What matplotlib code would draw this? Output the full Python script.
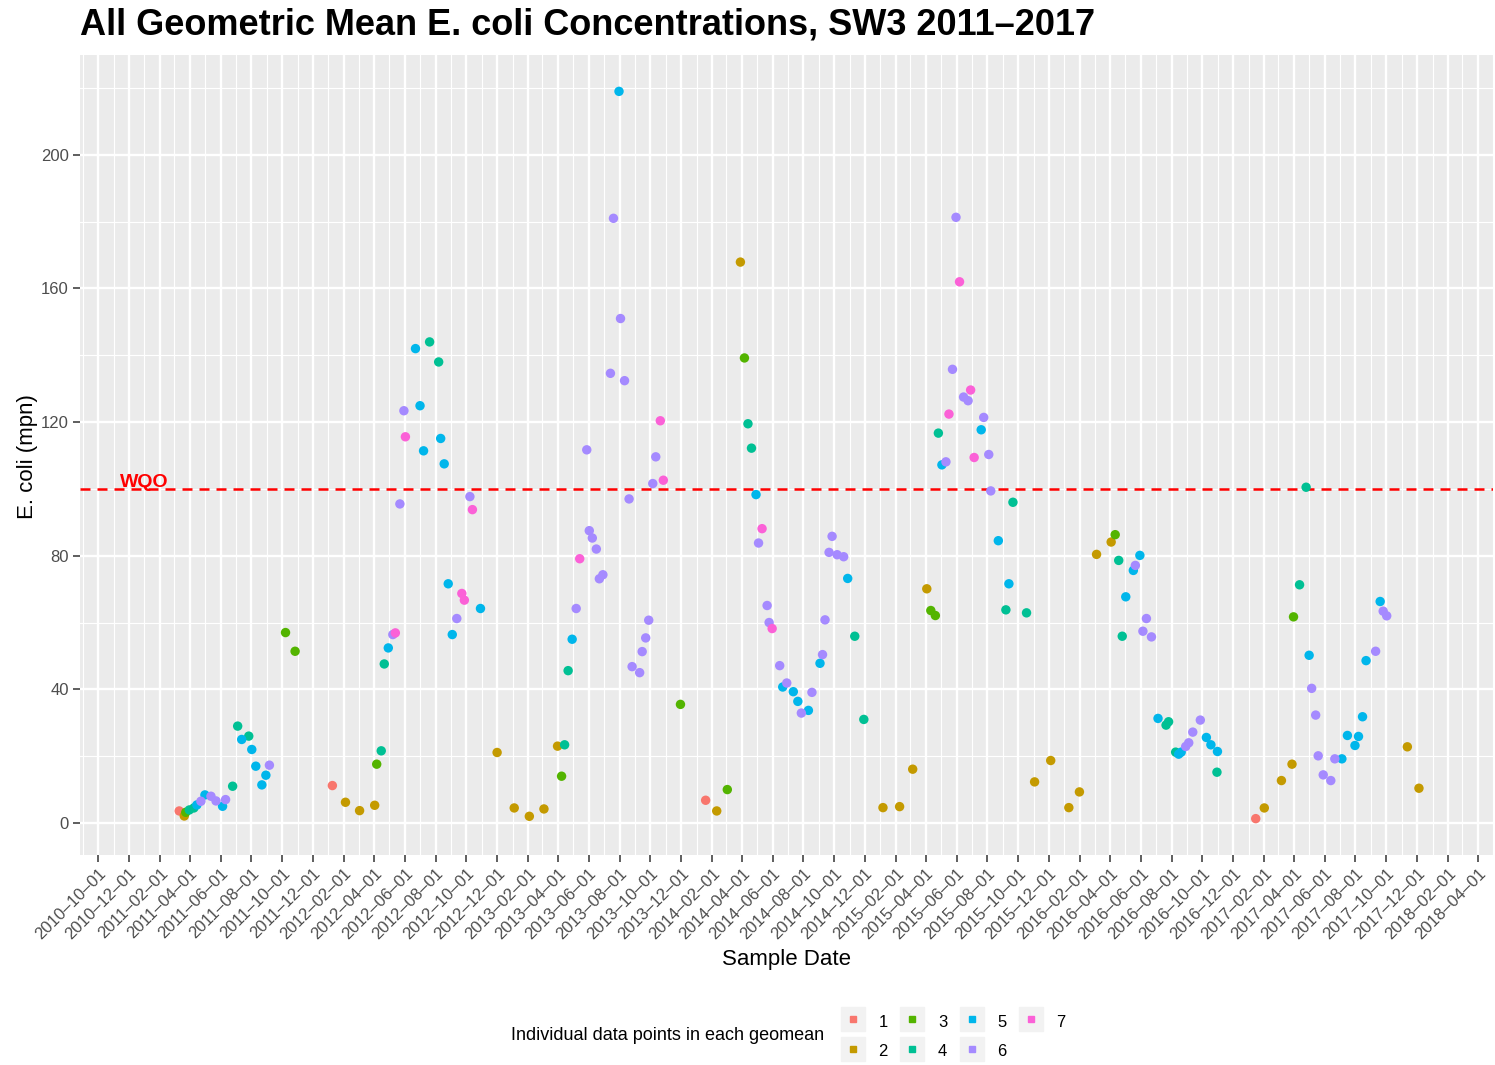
import pandas as pd
import numpy as np
import matplotlib
matplotlib.use('Agg')
import matplotlib.pyplot as plt
from matplotlib.lines import Line2D
from matplotlib.legend_handler import HandlerTuple

plt.rcParams['font.family'] = ['Liberation Sans', 'DejaVu Sans']

# ---- Data: sample date and geomean value for each point count group ----
g1_dates = ['2011-03-11', '2012-01-09', '2014-01-19', '2017-01-15']
g1_vals = [3.6, 11.2, 6.8, 1.3]

g2_dates = ['2011-03-21', '2012-02-04', '2012-03-03', '2012-04-02', '2012-12-01',
            '2013-01-04', '2013-02-03', '2013-03-04', '2013-03-31', '2014-02-10',
            '2014-03-29', '2015-01-06', '2015-02-08', '2015-03-06', '2015-04-03',
            '2015-11-03', '2015-12-05', '2016-01-10', '2016-01-31', '2016-03-05',
            '2016-04-03', '2017-02-01', '2017-03-07', '2017-03-28', '2017-11-12',
            '2017-12-05']
g2_vals = [2.1, 6.2, 3.7, 5.3, 21.1, 4.5, 2.0, 4.2, 23.0, 3.6,
           167.9, 4.6, 4.9, 16.1, 70.1, 12.3, 18.7, 4.6, 9.3, 80.4,
           84.1, 4.5, 12.7, 17.6, 22.8, 10.4]

g3_dates = ['2011-03-24', '2011-10-08', '2011-10-27', '2012-04-06', '2013-04-08',
            '2013-11-30', '2014-03-03', '2014-04-06', '2015-04-11', '2015-04-20',
            '2016-04-11', '2017-03-31']
g3_vals = [3.2, 57.0, 51.4, 17.6, 14.0, 35.5, 10.0, 139.2, 63.6, 62.1, 86.3, 61.7]

g4_dates = ['2011-03-31', '2011-04-09', '2011-06-25', '2011-07-05', '2011-07-27',
            '2012-04-15', '2012-04-21', '2012-07-20', '2012-08-07', '2013-04-14',
            '2013-04-21', '2014-04-13', '2014-04-20', '2014-11-11', '2014-11-29',
            '2015-04-26', '2015-09-07', '2015-09-21', '2015-10-18', '2016-04-18',
            '2016-04-25', '2016-07-21', '2016-07-26', '2016-08-09', '2016-10-30',
            '2017-04-12', '2017-04-25']
g4_vals = [3.9, 4.5, 11.0, 29.0, 26.0, 21.6, 47.6, 144.0, 138.0, 23.4,
           45.6, 119.5, 112.2, 55.9, 31.0, 116.7, 63.8, 96.0, 62.9, 78.6,
           55.9, 29.3, 30.3, 21.2, 15.2, 71.3, 100.5]

g5_dates = ['2011-04-15', '2011-05-01', '2011-06-05', '2011-07-13', '2011-08-02',
            '2011-08-10', '2011-08-22', '2011-08-30', '2012-04-29', '2012-06-22',
            '2012-07-01', '2012-07-08', '2012-08-11', '2012-08-18', '2012-08-26',
            '2012-09-03', '2012-10-29', '2013-04-29', '2013-07-31', '2014-04-29',
            '2014-06-21', '2014-07-12', '2014-07-21', '2014-08-11', '2014-09-03',
            '2014-10-28', '2015-05-03', '2015-07-20', '2015-08-23', '2015-09-13',
            '2016-05-02', '2016-05-17', '2016-05-30', '2016-07-05', '2016-08-15',
            '2016-08-20', '2016-10-09', '2016-10-18', '2016-10-31', '2017-05-01',
            '2017-07-05', '2017-07-16', '2017-07-31', '2017-08-07', '2017-08-15',
            '2017-08-22', '2017-09-19']
g5_vals = [5.4, 8.4, 5.0, 25.0, 22.0, 17.0, 11.4, 14.3, 52.4, 142.0,
           124.9, 111.4, 115.1, 107.5, 71.6, 56.4, 64.2, 55.0, 219.0, 98.3,
           40.7, 39.3, 36.4, 33.7, 47.8, 73.2, 107.2, 117.7, 84.5, 71.6,
           67.7, 75.6, 80.1, 31.3, 20.6, 21.2, 25.6, 23.4, 21.4, 50.2,
           19.2, 26.2, 23.2, 25.9, 31.8, 48.6, 66.3]

g6_dates = ['2011-04-23', '2011-05-13', '2011-05-23', '2011-06-11', '2011-09-06',
            '2012-05-08', '2012-05-22', '2012-05-30', '2012-09-12', '2012-10-08',
            '2013-05-07', '2013-05-28', '2013-06-02', '2013-06-08', '2013-06-16',
            '2013-06-22', '2013-06-29', '2013-07-14', '2013-07-20', '2013-08-03',
            '2013-08-11', '2013-08-20', '2013-08-26', '2013-09-10', '2013-09-15',
            '2013-09-22', '2013-09-28', '2013-10-06', '2013-10-12', '2014-05-04',
            '2014-05-21', '2014-05-25', '2014-06-15', '2014-06-29', '2014-07-28',
            '2014-08-18', '2014-09-08', '2014-09-13', '2014-09-21', '2014-09-27',
            '2014-10-07', '2014-10-20', '2015-05-11', '2015-05-24', '2015-05-31',
            '2015-06-15', '2015-06-24', '2015-07-25', '2015-08-04', '2015-08-08',
            '2016-05-21', '2016-06-05', '2016-06-12', '2016-06-22', '2016-08-29',
            '2016-09-04', '2016-09-12', '2016-09-27', '2017-05-06', '2017-05-14',
            '2017-05-19', '2017-05-29', '2017-06-13', '2017-06-21', '2017-09-10',
            '2017-09-25', '2017-10-02']
g6_vals = [6.5, 8.0, 6.6, 7.0, 17.3, 56.4, 95.5, 123.4, 61.2, 97.7,
           64.2, 111.7, 87.5, 85.3, 82.0, 73.1, 74.3, 134.6, 181.0, 151.0,
           132.4, 97.0, 46.8, 45.0, 51.3, 55.4, 60.7, 101.6, 109.6, 83.8,
           65.1, 60.0, 47.1, 41.9, 32.9, 39.1, 50.4, 60.8, 81.0, 85.8,
           80.3, 79.7, 108.1, 135.8, 181.3, 127.5, 126.4, 121.4, 110.3, 99.4,
           77.1, 57.4, 61.2, 55.7, 22.9, 24.0, 27.2, 30.8, 40.3, 32.3,
           20.1, 14.4, 12.7, 19.2, 51.4, 63.4, 62.0]

g7_dates = ['2012-05-13', '2012-06-02', '2012-09-22', '2012-09-27', '2012-10-13',
            '2013-05-14', '2013-10-21', '2013-10-27', '2014-05-11', '2014-05-31',
            '2015-05-17', '2015-06-07', '2015-06-29', '2015-07-06']
g7_vals = [56.9, 115.6, 68.7, 66.7, 93.8, 79.1, 120.4, 102.6, 88.1, 58.2,
           122.4, 162.0, 129.6, 109.4]

group_labels = ['1', '2', '3', '4', '5', '6', '7']
group_colors = ['#F8766D', '#C49A00', '#53B400', '#00C094', '#00B6EB', '#A58AFF', '#FB61D7']
wqo = 100

# Build one table
parts = []
for lab, d, v in zip(group_labels,
                     [g1_dates, g2_dates, g3_dates, g4_dates, g5_dates, g6_dates, g7_dates],
                     [g1_vals, g2_vals, g3_vals, g4_vals, g5_vals, g6_vals, g7_vals]):
    parts.append(pd.DataFrame({'date': pd.to_datetime(d), 'ecoli': v, 'n': lab}))
df = pd.concat(parts, ignore_index=True)

# ---- Figure ----
W, H = 1495, 1065
fig = plt.figure(figsize=(W / 100, H / 100), dpi=100)
ax = fig.add_axes([80 / W, 1 - 855 / H, (1493 - 80) / W, (855 - 55) / H])
ax.set_facecolor('#EBEBEB')
for s in ax.spines.values():
    s.set_visible(False)

for lab, col in zip(group_labels, group_colors):
    sub = df[df['n'] == lab]
    ax.scatter(sub['date'], sub['ecoli'], s=46, color=col, edgecolors='none', zorder=3)

ax.axhline(wqo, color='red', lw=1.8, dashes=(4, 2.8), zorder=2)
ax.text(pd.Timestamp('2010-12-31'), wqo + 1.8, 'WQO', color='red', fontsize=14,
        fontweight='bold', ha='center', va='center', zorder=4)

# axes limits (ggplot style 5% expansion on y)
span = df['ecoli'].max() - df['ecoli'].min()
ax.set_ylim(df['ecoli'].min() - 0.05 * span, df['ecoli'].max() + 0.05 * span)
ax.set_xlim(pd.Timestamp('2010-08-26'), pd.Timestamp('2018-04-13'))

major_x = pd.date_range('2010-10-01', '2018-04-01', freq='2MS')
minor_x = pd.date_range('2010-09-01', '2018-05-01', freq='2MS')
ax.set_xticks(major_x)
ax.set_xticks(minor_x, minor=True)
ax.set_xticklabels([d.strftime('%Y-%m-%d').replace('-', '\u2013') for d in major_x],
                   rotation=45, ha='right', rotation_mode='anchor')
ax.set_yticks(np.arange(0, 201, 40))
ax.set_yticks(np.arange(20, 221, 40), minor=True)

ax.grid(which='major', color='white', lw=1.7, zorder=0)
ax.grid(which='minor', color='white', lw=0.8, zorder=0)
ax.set_axisbelow(True)
ax.tick_params(which='major', length=5, width=1.1, color='#333333',
               labelcolor='#4D4D4D', labelsize=12, pad=3)
ax.tick_params(which='minor', length=0)

# Text
fig.text(80 / W, 1 - 25 / H, 'All Geometric Mean E. coli Concentrations, SW3 2011\u20132017',
         fontsize=26, fontweight='bold', va='center', ha='left')
fig.text(786 / W, 1 - 960 / H, 'Sample Date', fontsize=16, ha='center', va='center')
fig.text(27 / W, 1 - 457 / H, 'E. coli (mpn)', fontsize=16, rotation=90,
         ha='center', va='center')

# Legend
fig.text(511 / W, 1 - 1036 / H, 'Individual data points in each geomean', fontsize=13,
         ha='left', va='center')
handles = []
for col in group_colors:
    handles.append((Line2D([], [], marker='s', color='#F2F2F2', linestyle='', markersize=17),
                    Line2D([], [], marker='s', color=col, linestyle='', markersize=5)))
fig.legend(handles, group_labels, ncol=4, loc='center left',
           bbox_to_anchor=(841 / W, 1 - 1036 / H), frameon=False, fontsize=12,
           handler_map={tuple: HandlerTuple(ndivide=1, pad=0)},
           handlelength=1.45, handleheight=1.45, handletextpad=0.8,
           columnspacing=0.75, labelspacing=0.6, borderpad=0, borderaxespad=0)

fig.savefig('out.png', dpi=100)
